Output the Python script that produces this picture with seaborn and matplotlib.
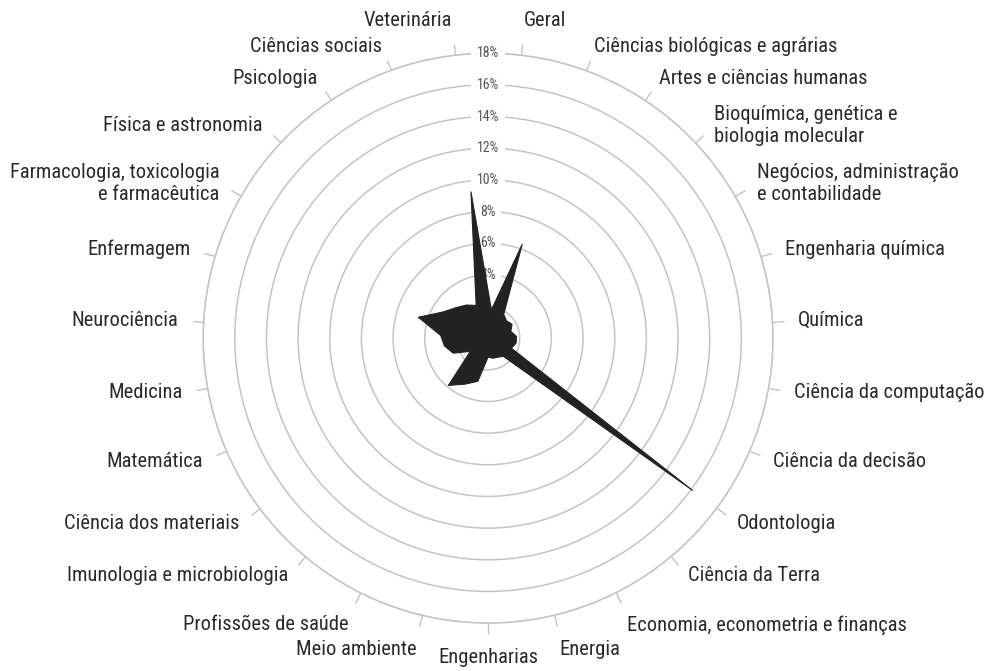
import numpy as np
import pandas as pd
import seaborn as sns
import matplotlib.pyplot as plt
from matplotlib import font_manager

# categorias em sentido horario, comecando logo a direita do topo
categorias = [
    "Geral", "Ciências biológicas e agrárias", "Artes e ciências humanas",
    "Bioquímica, genética e\nbiologia molecular",
    "Negócios, administração\ne contabilidade",
    "Engenharia química", "Química", "Ciência da computação",
    "Ciência da decisão", "Odontologia", "Ciência da Terra",
    "Economia, econometria e finanças", "Energia", "Engenharias",
    "Meio ambiente", "Profissões de saúde", "Imunologia e microbiologia",
    "Ciência dos materiais", "Matemática", "Medicina", "Neurociência",
    "Enfermagem", "Farmacologia, toxicologia\ne farmacêutica",
    "Física e astronomia", "Psicologia", "Ciências sociais", "Veterinária",
]
# percentual por area
percentuais = [
    1.8, 6.3, 1.8, 1.6, 1.75, 1.5, 1.8, 1.8, 1.6, 16.1, 1.5, 1.35, 1.3, 1.2,
    2.8, 3.25, 3.9, 1.4, 2.4, 2.8, 3.0, 4.6, 3.3, 2.8, 2.5, 2.2, 9.3,
]
aneis = [2, 4, 6, 8, 10, 12, 14, 16, 18]
aneis_rotulados = [4, 6, 8, 10, 12, 14, 16, 18]

sns.set_theme(style="white")

# fonte estreita se existir, senao Roboto
nomes = {f.name for f in font_manager.fontManager.ttflist}
condensada = [f for f in font_manager.fontManager.ttflist
              if f.name == "DejaVu Sans" and "ondensed" in str(f.stretch) + f.fname]
if "Roboto Condensed" in nomes:
    fonte, tam = "Roboto Condensed", 14.8
elif condensada:
    fonte, tam = "DejaVu Sans", 13
else:
    fonte, tam = "Roboto", 13
plt.rcParams["font.family"] = [fonte, "DejaVu Sans"]
estica = "condensed" if (condensada and fonte == "DejaVu Sans") else "normal"

n = len(categorias)
theta = (np.arange(n) + 0.5) * 2 * np.pi / n
df = pd.DataFrame({"theta": np.append(theta, theta[0]),
                   "valor": np.append(percentuais, percentuais[0])})

fig = plt.figure(figsize=(9.86, 6.71), dpi=100)
ax = fig.add_axes([0.206, 0.0713, 0.578, 0.8495], projection="polar")
ax.set_theta_zero_location("N")
ax.set_theta_direction(-1)
ax.set_ylim(0, 18)

grid_cor = "#c4c4c4"
ax.set_yticks(aneis)
ax.set_yticklabels([])
ax.yaxis.grid(True, color=grid_cor, lw=1.1)
ax.xaxis.grid(False)
ax.spines["polar"].set_color(grid_cor)
ax.spines["polar"].set_linewidth(1.1)
ax.set_xticks(theta)
ax.set_xticklabels([])
ax.tick_params(axis="x", bottom=True, top=True, length=8, width=1,
               color=grid_cor, direction="out")

for r in aneis_rotulados:
    ax.text(0, r, f"{r}%", ha="center", va="center", fontsize=10,
            color="#555555", zorder=3, fontstretch=estica,
            bbox=dict(boxstyle="square,pad=0.4", fc="white", ec="none"))

ax.fill(df["theta"], df["valor"], color="#222222", zorder=5, lw=0)
sns.lineplot(data=df, x="theta", y="valor", sort=False, estimator=None,
             color="#222222", lw=0.8, ax=ax, zorder=6)
ax.set_xlabel("")
ax.set_ylabel("")

for t, nome in zip(theta, categorias):
    s, c = np.sin(t), np.cos(t)
    if abs(s) < 0.05:
        ha = "center"
    elif s > 0:
        ha = "left"
    else:
        ha = "right"
    if c > 0.97:
        va = "bottom"
    elif c < -0.85:
        va = "top"
    else:
        va = "center"
    ax.text(t, 19.6, nome, ha=ha, va=va, multialignment=ha if ha != "center" else "center",
            fontsize=tam, fontstretch=estica, color="#2a2a2a", clip_on=False)

fig.savefig("out.png", dpi=100, facecolor="white")
